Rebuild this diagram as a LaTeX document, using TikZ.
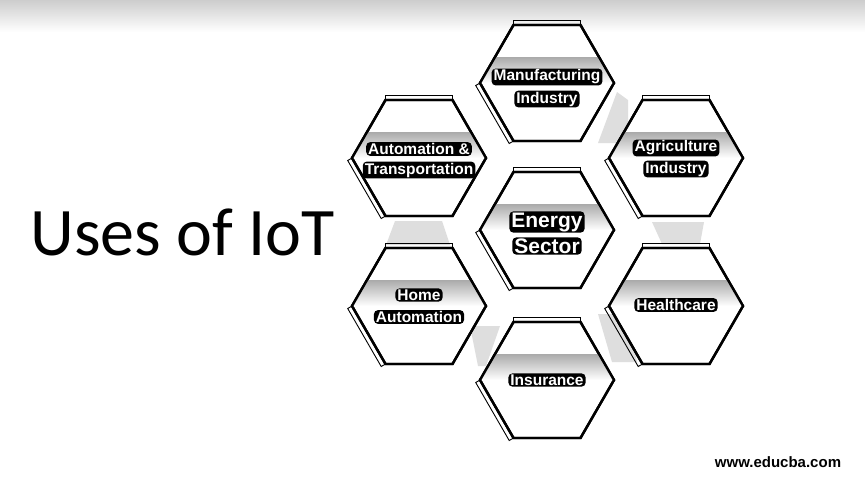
\documentclass[tikz,border=0pt]{standalone}
\usepackage{fontspec}
\setmainfont{Liberation Sans}
\newfontfamily\titlefont{Carlito}
\usetikzlibrary{calc}
\definecolor{bandgray}{RGB}{170,170,170}
\definecolor{shadegray}{RGB}{222,222,222}
\definecolor{topgray}{RGB}{205,205,205}
\tikzset{
  % honeycomb cells
  hexedge/.style  = {line width=2.4pt, line join=miter, black, fill=white},
  bevel/.style    = {line width=0.9pt, black},
  % labels: white letters on a black outline
  hexlabel/.style = {text=white, fill=black, rounded corners=4pt,
                     inner xsep=2pt, inner ysep=1.2pt,
                     font=\bfseries\fontsize{15.5}{18}\selectfont},
  biglabel/.style = {hexlabel, font=\bfseries\fontsize{21}{24}\selectfont},
  % dotted shadows between cells
  shadowpatch/.style = {fill=shadegray, draw=none},
}
\begin{document}
\begin{tikzpicture}[x=1pt,y=-1pt]
  \useasboundingbox (0,0) rectangle (865,483);
  \fill[white] (0,0) rectangle (865,483);
  % grey fade at the top
  \shade[top color=topgray, bottom color=white] (0,0) rectangle (865,32);
  % shadows between cells
  \fill[shadowpatch] (617,92) -- (628,100) -- (628,143) -- (598,143) -- cycle;
  \fill[shadowpatch] (395,221) -- (442,221) -- (450,245) -- (386,245) -- cycle;
  \fill[shadowpatch] (652,222) -- (704,222) -- (700,244) -- (662,244) -- cycle;
  \fill[shadowpatch] (470,326) -- (500,326) -- (486,366) -- (478,366) -- cycle;
  \fill[shadowpatch] (598,314) -- (628,314) -- (637,362) -- (612,362) -- cycle;
  % cells
  \foreach \nm/\px/\py in {manu/547/83, auto/419/158, agri/676/158,
      ener/547/230, home/419/306, heal/676/306, insu/547/380}{
    \coordinate (\nm) at (\px,\py);
    \coordinate (\nm-w)  at (\px-67,\py);
    \coordinate (\nm-e)  at (\px+67,\py);
    \coordinate (\nm-nw) at (\px-33.5,\py-58);
    \coordinate (\nm-ne) at (\px+33.5,\py-58);
    \coordinate (\nm-sw) at (\px-33.5,\py+58);
    \coordinate (\nm-se) at (\px+33.5,\py+58);
    \draw[hexedge] (\nm-nw) -- (\nm-w) -- (\nm-sw) -- (\nm-se) -- (\nm-e) -- (\nm-ne) -- cycle;
    \begin{scope}
      \clip (\nm-nw) -- (\nm-w) -- (\nm-sw) -- (\nm-se) -- (\nm-e) -- (\nm-ne) -- cycle;
      \shade[top color=bandgray, bottom color=white]
        ($(\nm)+(-72,-26)$) rectangle ($(\nm)+(72,0)$);
    \end{scope}
    \draw[hexedge, fill=none] (\nm-nw) -- (\nm-w) -- (\nm-sw) -- (\nm-se) -- (\nm-e) -- (\nm-ne) -- cycle;
    \draw[bevel] (\nm-nw) -- ++(0,-5) -- ($(\nm-ne)+(0,-5)$) -- (\nm-ne);
    \draw[bevel] (\nm-w) -- ++(-4.3,2.5) -- ($(\nm-sw)+(-4.3,2.5)$) -- (\nm-sw);
  }
  % cell labels
  \node[hexlabel] (manu-a) at (547,77) {Manufacturing};
  \node[hexlabel] (manu-b) at (547,99) {Industry};
  \node[hexlabel] (auto-a) at (419,149) {Automation \&};
  \node[hexlabel] (auto-b) at (419,170) {Transportation};
  \node[hexlabel] (agri-a) at (676,148) {Agriculture};
  \node[hexlabel] (agri-b) at (676,169) {Industry};
  \node[biglabel] (ener-a) at (547,222) {Energy};
  \node[biglabel] (ener-b) at (547,246) {Sector};
  \node[hexlabel] (home-a) at (419,295) {Home};
  \node[hexlabel] (home-b) at (419,317) {Automation};
  \node[hexlabel] (heal-a) at (676,305) {Healthcare};
  \node[hexlabel] (insu-a) at (547,380) {Insurance};
  % title and site name
  \node[font=\titlefont\fontsize{68}{80}\selectfont, anchor=base west] (title) at (27,255) {Uses of IoT};
  \node[font=\bfseries\fontsize{15}{18}\selectfont] (web) at (778,462) {www.educba.com};
\end{tikzpicture}
\end{document}
